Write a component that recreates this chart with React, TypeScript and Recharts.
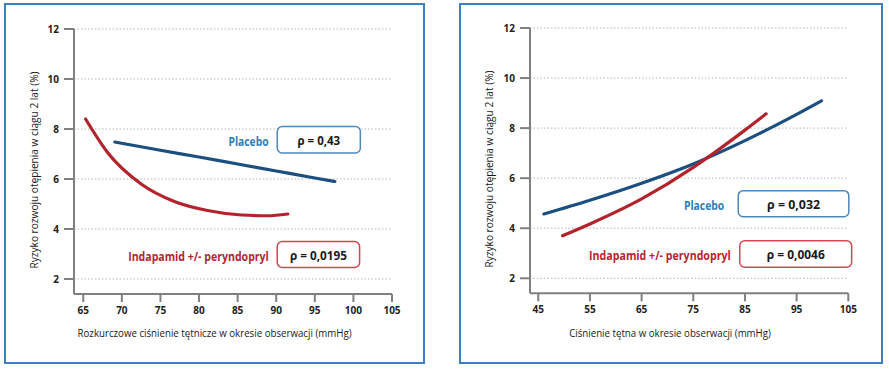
import { CartesianGrid, Label, Line, LineChart, ReferenceArea, XAxis, YAxis } from "recharts";

// Left panel: diastolic pressure
const leftPlaceboX = [69.1, 75, 80, 85, 90, 95, 97.6];
const leftPlaceboY = [7.48, 7.15, 6.88, 6.6, 6.32, 6.04, 5.9];
const leftIndapX = [65.3, 68.2, 72.5, 76.8, 81.1, 85.5, 88.9, 91.5];
const leftIndapY = [8.4, 7.04, 5.8, 5.1, 4.74, 4.56, 4.53, 4.6];
const leftXTicks = [65, 70, 75, 80, 85, 90, 95, 100, 105];

// Right panel: pulse pressure
const rightPlaceboX = [46.1, 55, 65, 75, 85, 95, 99.8];
const rightPlaceboY = [4.57, 5.12, 5.8, 6.57, 7.5, 8.55, 9.09];
const rightIndapX = [49.7, 55, 65, 75, 77.6, 85, 89.1];
const rightIndapY = [3.7, 4.17, 5.17, 6.43, 6.8, 7.92, 8.57];
const rightXTicks = [45, 55, 65, 75, 85, 95, 105];

const yTicks = [2, 4, 6, 8, 10, 12];

const PLACEBO = "Placebo";
const INDAP = "Indapamid +/- peryndopryl";
const Y_TITLE = "Ryzyko rozwoju otępienia w ciągu 2 lat (%)";
const LEFT_X_TITLE = "Rozkurczowe ciśnienie tętnicze w okresie obserwacji (mmHg)";
const RIGHT_X_TITLE = "Ciśnienie tętna w okresie obserwacji (mmHg)";

const FONT = "'Open Sans', 'Liberation Sans', sans-serif";
const BLUE_LINE = "#1b4f80";
const RED_LINE = "#b2242d";
const BLUE_TEXT = "#2f7bb8";
const RED_TEXT = "#b3262f";
const AXIS = "#808080";

const zip = (xs: number[], ys: number[]) => xs.map((x, i) => ({ x, y: ys[i] }));

// text squeezed horizontally (the original uses a condensed face)
interface SqueezedProps {
  x: number;
  y: number;
  width: number;
  squeeze: number;
  anchor: "start" | "middle" | "end";
  size: number;
  weight?: number;
  color: string;
  rotate?: number;
  children: string;
}

function Squeezed({ x, y, width, squeeze, anchor, size, weight, color, rotate, children }: SqueezedProps) {
  const rot = rotate ? ` rotate(${rotate})` : "";
  return (
    <text
      transform={`translate(${x},${y})${rot} scale(${squeeze},1)`}
      x={0}
      y={0}
      textAnchor={anchor}
      dominantBaseline="central"
      fontSize={size}
      fontWeight={weight ?? 400}
      fontFamily={FONT}
      fill={color}
      textLength={width / squeeze}
      lengthAdjust="spacingAndGlyphs"
    >
      {children}
    </text>
  );
}

interface BoxCfg {
  border: string;
  value: string;
  valueWidth: number;
  label: string;
  labelColor: string;
  labelWidth: number;
  gap: number;
}

const boxShape = (cfg: BoxCfg) => (p: any) => {
  const { x, y, width, height } = p;
  const cy = y + height / 2;
  return (
    <g>
      <rect x={x} y={y} width={width} height={height} rx={5} fill="#fff" stroke={cfg.border} strokeWidth={1.5} />
      <Squeezed x={x + width / 2} y={cy} width={cfg.valueWidth} squeeze={0.78} anchor="middle" size={13} weight={700} color="#1a1a1a">
        {cfg.value}
      </Squeezed>
      <Squeezed x={x - cfg.gap} y={cy + 1} width={cfg.labelWidth} squeeze={0.78} anchor="end" size={13} weight={700} color={cfg.labelColor}>
        {cfg.label}
      </Squeezed>
    </g>
  );
};

const xTitle = (text: string, dx: number, len: number) => (p: any) => {
  const vb = p.viewBox;
  return (
    <Squeezed x={vb.x + dx} y={vb.y + 39} width={len} squeeze={0.82} anchor="middle" size={11} color="#1a1a1a">
      {text}
    </Squeezed>
  );
};

const yTitle = (cx: number, cy: number, len: number) => () => (
  <Squeezed x={cx} y={cy} width={len} squeeze={0.82} anchor="middle" size={11} color="#1a1a1a" rotate={-90}>
    {Y_TITLE}
  </Squeezed>
);

const tickStyle = { fill: "#222", fontSize: 10, fontWeight: 700, fontFamily: FONT };

interface PanelProps {
  width: number;
  margin: { top: number; right: number; bottom: number; left: number };
  xDomain: [number, number];
  xTicks: number[];
  placebo: { x: number; y: number }[];
  indap: { x: number; y: number }[];
  xTitleText: string;
  xTitleDx: number;
  xTitleLen: number;
  yTitlePos: [number, number];
  blueBox: [number, number, number, number];
  redBox: [number, number, number, number];
  blueCfg: BoxCfg;
  redCfg: BoxCfg;
}

function Panel(props: PanelProps) {
  return (
    <LineChart width={props.width} height={369} margin={props.margin}>
      <CartesianGrid horizontal vertical={false} stroke="#b5b5b5" strokeDasharray="1.5 2" />
      <XAxis
        type="number"
        dataKey="x"
        domain={props.xDomain}
        ticks={props.xTicks}
        allowDataOverflow
        height={40}
        axisLine={{ stroke: AXIS, strokeWidth: 2 }}
        tickLine={{ stroke: AXIS, strokeWidth: 2 }}
        tickSize={8}
        tickMargin={5}
        tick={tickStyle}
      >
        <Label content={xTitle(props.xTitleText, props.xTitleDx, props.xTitleLen)} />
      </XAxis>
      <YAxis
        type="number"
        dataKey="y"
        domain={[1.4, 12]}
        ticks={yTicks}
        allowDataOverflow
        width={50}
        axisLine={{ stroke: AXIS, strokeWidth: 2 }}
        tickLine={{ stroke: AXIS, strokeWidth: 2 }}
        tickSize={10}
        tickMargin={5}
        tick={tickStyle}
      >
        <Label content={yTitle(props.yTitlePos[0], props.yTitlePos[1], 197)} />
      </YAxis>
      <Line
        data={props.placebo}
        dataKey="y"
        type="monotone"
        stroke={BLUE_LINE}
        strokeWidth={3.2}
        strokeLinecap="round"
        dot={false}
        isAnimationActive={false}
      />
      <Line
        data={props.indap}
        dataKey="y"
        type="monotone"
        stroke={RED_LINE}
        strokeWidth={3.2}
        strokeLinecap="round"
        dot={false}
        isAnimationActive={false}
      />
      <ReferenceArea
        x1={props.blueBox[0]}
        x2={props.blueBox[1]}
        y1={props.blueBox[2]}
        y2={props.blueBox[3]}
        ifOverflow="visible"
        shape={boxShape(props.blueCfg)}
      />
      <ReferenceArea
        x1={props.redBox[0]}
        x2={props.redBox[1]}
        y1={props.redBox[2]}
        y2={props.redBox[3]}
        ifOverflow="visible"
        shape={boxShape(props.redCfg)}
      />
    </LineChart>
  );
}

const frame = { position: "absolute" as const, top: 3, height: 361, border: "2px solid #3d80c2", boxSizing: "border-box" as const };

export default function App() {
  return (
    <div style={{ position: "absolute", left: 0, top: 0, width: 889, height: 369, background: "#fff", overflow: "hidden" }}>
      <div style={{ ...frame, left: 4, width: 421 }} />
      <div style={{ ...frame, left: 459, width: 424 }} />
      <div style={{ position: "absolute", left: 0, top: 0 }}>
        <Panel
          width={445}
          margin={{ top: 29, right: 53, bottom: 35, left: 24 }}
          xDomain={[63.8, 105]}
          xTicks={leftXTicks}
          placebo={zip(leftPlaceboX, leftPlaceboY)}
          indap={zip(leftIndapX, leftIndapY)}
          xTitleText={LEFT_X_TITLE}
          xTitleDx={140.5}
          xTitleLen={274}
          yTitlePos={[33.3, 170]}
          blueBox={[90.13, 100.9, 7.04, 8.1]}
          redBox={[90.13, 100.8, 2.46, 3.5]}
          blueCfg={{ border: "#4d88bb", value: "ρ = 0,43", valueWidth: 42.7, label: PLACEBO, labelColor: BLUE_TEXT, labelWidth: 40, gap: 8.7 }}
          redCfg={{ border: "#d3464f", value: "ρ = 0,0195", valueWidth: 57, label: INDAP, labelColor: RED_TEXT, labelWidth: 140.7, gap: 8.4 }}
        />
      </div>
      <div style={{ position: "absolute", left: 445, top: 0 }}>
        <Panel
          width={444}
          margin={{ top: 28, right: 40.7, bottom: 35.7, left: 35 }}
          xDomain={[43.4, 105]}
          xTicks={rightXTicks}
          placebo={zip(rightPlaceboX, rightPlaceboY)}
          indap={zip(rightIndapX, rightIndapY)}
          xTitleText={RIGHT_X_TITLE}
          xTitleDx={140}
          xTitleLen={201.7}
          yTitlePos={[43.3, 169]}
          blueBox={[83.7, 105.1, 4.46, 5.5]}
          redBox={[84.0, 105.65, 2.44, 3.5]}
          blueCfg={{ border: "#4d88bb", value: "ρ = 0,032", valueWidth: 53, label: PLACEBO, labelColor: BLUE_TEXT, labelWidth: 40.3, gap: 14 }}
          redCfg={{ border: "#d3464f", value: "ρ = 0,0046", valueWidth: 58, label: INDAP, labelColor: RED_TEXT, labelWidth: 141.7, gap: 9 }}
        />
      </div>
    </div>
  );
}
